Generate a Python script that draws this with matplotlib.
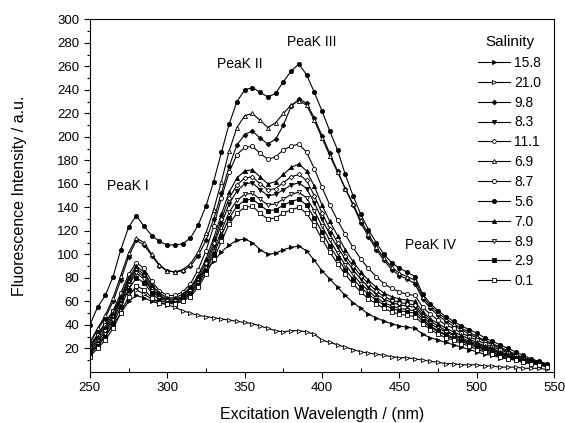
import matplotlib
matplotlib.use("Agg")
import matplotlib.pyplot as plt
import numpy as np

plt.rcParams['font.family'] = ['Liberation Sans', 'DejaVu Sans']

# excitation wavelength, every 5 nm
wavelength = list(range(250, 550, 5))

sal_15_8 = [15, 22, 30, 40, 50, 60, 65, 63, 60, 58, 58, 60, 64, 72, 80, 87, 94, 102, 108, 112,
            113, 110, 104, 100, 101, 104, 106, 107, 103, 95, 86, 79, 72, 65, 59, 54, 49, 46, 43, 41,
            39, 38, 37, 32, 29, 27, 25, 23, 21, 19, 17, 15, 14, 12, 11, 10, 8, 7, 6, 5]
sal_21_0 = [22, 32, 42, 52, 62, 68, 70, 66, 62, 59, 57, 55, 52, 50, 48, 47, 46, 45, 44, 43,
            42, 41, 39, 37, 35, 34, 35, 35, 34, 32, 27, 25, 23, 21, 19, 17, 16, 15, 14, 13,
            12, 12, 11, 10, 9, 8, 7, 7, 6, 6, 6, 5, 5, 4, 4, 4, 3, 3, 3, 2]
sal_9_8 = [24, 36, 46, 60, 78, 98, 112, 108, 99, 90, 86, 85, 86, 90, 99, 112, 130, 152, 175, 193,
           202, 205, 199, 194, 198, 210, 226, 232, 229, 216, 201, 186, 171, 156, 142, 127, 115, 104, 95, 87,
           82, 79, 75, 62, 54, 48, 43, 39, 36, 32, 29, 26, 23, 20, 17, 14, 12, 10, 8, 6]
sal_8_3 = [17, 26, 34, 46, 60, 76, 86, 81, 70, 64, 61, 61, 63, 68, 78, 90, 107, 126, 143, 154,
           160, 161, 155, 150, 151, 155, 159, 161, 156, 144, 130, 117, 106, 96, 87, 79, 72, 66, 62, 59,
           57, 56, 55, 47, 41, 37, 34, 31, 28, 25, 23, 20, 18, 16, 14, 12, 10, 8, 7, 5]
sal_11_1 = [18, 28, 36, 48, 62, 78, 88, 83, 72, 65, 62, 62, 64, 70, 80, 93, 110, 130, 148, 159,
            165, 166, 160, 155, 156, 161, 166, 168, 163, 150, 135, 122, 110, 99, 90, 82, 75, 69, 64, 61,
            59, 58, 57, 49, 43, 39, 35, 32, 29, 26, 24, 21, 19, 16, 14, 12, 10, 9, 7, 6]
sal_6_9 = [25, 37, 48, 63, 82, 101, 114, 110, 100, 91, 86, 85, 87, 92, 102, 118, 138, 162, 188, 208,
           218, 220, 214, 208, 212, 220, 227, 231, 227, 214, 199, 184, 170, 156, 143, 129, 117, 106, 97, 89,
           84, 81, 78, 64, 56, 50, 45, 41, 37, 34, 30, 27, 24, 21, 18, 15, 12, 10, 8, 6]
sal_8_7 = [21, 31, 40, 52, 67, 83, 93, 88, 77, 69, 65, 65, 68, 75, 87, 103, 124, 148, 170, 185,
           191, 192, 186, 181, 183, 189, 192, 194, 187, 173, 157, 142, 129, 117, 106, 96, 88, 81, 75, 71,
           68, 66, 65, 55, 49, 44, 40, 37, 33, 30, 27, 24, 21, 19, 16, 14, 12, 10, 8, 6]
sal_5_6 = [40, 55, 65, 81, 104, 123, 133, 124, 116, 111, 108, 108, 109, 114, 125, 141, 162, 187, 211, 230,
           240, 242, 238, 234, 237, 247, 256, 262, 253, 238, 222, 205, 189, 168, 150, 134, 121, 110, 100, 93,
           88, 85, 81, 66, 58, 52, 47, 43, 39, 36, 33, 29, 26, 23, 20, 17, 14, 11, 9, 7]
sal_7_0 = [20, 30, 38, 50, 64, 80, 90, 85, 74, 67, 63, 63, 66, 72, 82, 96, 114, 134, 153, 165,
           171, 172, 166, 160, 162, 168, 174, 177, 171, 158, 142, 128, 116, 104, 94, 85, 78, 72, 67, 64,
           62, 61, 60, 51, 45, 41, 37, 34, 31, 28, 25, 22, 20, 17, 15, 13, 11, 9, 8, 6]
sal_8_9 = [16, 24, 32, 44, 58, 74, 84, 79, 69, 63, 60, 60, 62, 67, 76, 88, 103, 120, 136, 146,
           151, 152, 147, 142, 143, 147, 151, 153, 148, 137, 124, 112, 101, 91, 83, 75, 69, 63, 59, 56,
           54, 53, 52, 45, 39, 35, 32, 29, 27, 24, 22, 19, 17, 15, 13, 11, 9, 8, 7, 5]
sal_2_9 = [15, 22, 30, 41, 55, 70, 80, 76, 67, 61, 59, 59, 61, 66, 74, 86, 100, 116, 131, 141,
           146, 147, 142, 137, 138, 142, 145, 147, 142, 131, 119, 107, 97, 87, 79, 72, 66, 61, 57, 54,
           52, 51, 50, 43, 38, 34, 31, 28, 26, 23, 21, 18, 16, 14, 12, 11, 9, 8, 6, 5]
sal_0_1 = [13, 20, 27, 37, 50, 64, 73, 70, 63, 59, 58, 58, 60, 64, 72, 83, 96, 111, 126, 135,
           140, 141, 135, 130, 131, 135, 138, 140, 135, 125, 113, 102, 92, 83, 75, 68, 62, 58, 54, 51,
           49, 48, 47, 41, 36, 32, 29, 27, 24, 22, 19, 17, 15, 13, 11, 10, 8, 7, 6, 4]

labels = ['15.8', '21.0', '9.8', '8.3', '11.1', '6.9', '8.7', '5.6', '7.0', '8.9', '2.9', '0.1']
series = [sal_15_8, sal_21_0, sal_9_8, sal_8_3, sal_11_1, sal_6_9, sal_8_7, sal_5_6,
          sal_7_0, sal_8_9, sal_2_9, sal_0_1]
markers = ['>', '>', 'D', 'v', 'D', '^', 'o', 'o', '^', 'v', 's', 's']
filled = [True, False, True, True, False, False, False, True, True, False, True, False]

peak_names = ['PeaK I', 'PeaK II', 'PeaK III', 'PeaK IV']
peak_x = [274.5, 347, 393.5, 470]
peak_y = [158, 262, 281, 108]


def main():
    fig = plt.figure(figsize=(5.65, 4.23), dpi=100)
    ax = fig.add_axes([0.159, 0.121, 0.822, 0.833])

    for y, lab, m, f in zip(series, labels, markers, filled):
        ms = 2.4 if m == 'D' else 3.0
        ax.plot(wavelength, y, color='black', lw=0.8, marker=m, ms=ms,
                mec='black', mew=0.6, mfc='black' if f else 'white', label=lab)

    for name, px, py in zip(peak_names, peak_x, peak_y):
        ax.text(px, py, name, fontsize=10, ha='center', va='center')

    ax.set_xlim(250, 550)
    ax.set_ylim(0, 300)
    ax.set_xticks(np.arange(250, 551, 50))
    ax.set_xticks(np.arange(275, 550, 50), minor=True)
    ax.set_yticks(np.arange(20, 301, 20))
    ax.set_yticks(np.arange(10, 300, 20), minor=True)
    ax.tick_params(axis='x', which='major', direction='out', length=4, width=0.8, labelsize=9.5)
    ax.tick_params(axis='x', which='minor', direction='in', length=3, width=0.8)
    ax.tick_params(axis='y', which='major', direction='out', length=4, width=0.8, labelsize=9.5)
    ax.tick_params(axis='y', which='minor', direction='out', length=2.5, width=0.8)
    for s in ax.spines.values():
        s.set_linewidth(0.8)

    ax.set_xlabel('Excitation Wavelength / (nm)', fontsize=11.5, labelpad=9)
    ax.set_ylabel('Fluorescence Intensity / a.u.', fontsize=11.5, labelpad=22)

    ax.legend(loc='upper left', bbox_to_anchor=(478 / 565, 1 - 56 / 423),
              bbox_transform=fig.transFigure, frameon=False, fontsize=10,
              handlelength=2.3, handletextpad=0.3,
              labelspacing=0.42, borderpad=0, borderaxespad=0)
    fig.text(510 / 565, 1 - 42 / 423, 'Salinity', fontsize=11, ha='center', va='center')

    fig.savefig('out.png', dpi=100)


if __name__ == "__main__":
    main()
